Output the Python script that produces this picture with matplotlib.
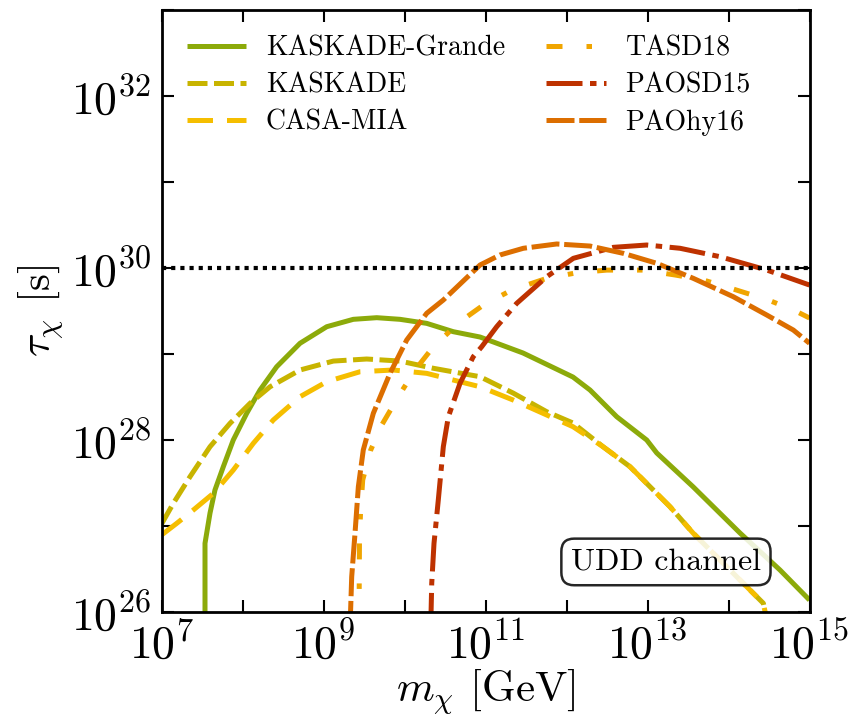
import matplotlib.pyplot as plt
import numpy as np

plt.rcParams['font.family'] = 'serif'
plt.rcParams['font.serif'] = ['cmr10']
plt.rcParams['mathtext.fontset'] = 'cm'
plt.rcParams['axes.formatter.use_mathtext'] = True

# log10(m / GeV) and log10(tau / s) for each experiment
kg_m = [7.537, 7.537, 7.599, 7.660, 7.763, 7.886, 8.052, 8.216, 8.422, 8.710,
        9.040, 9.368, 9.657, 9.944, 10.274, 10.602, 10.932, 11.463, 12.080,
        12.290, 12.620, 12.990, 13.114, 13.562, 14.142, 14.636, 15.0]
kg_t = [25.8, 26.796, 27.149, 27.417, 27.688, 27.999, 28.310, 28.581, 28.852,
        29.125, 29.318, 29.404, 29.423, 29.404, 29.357, 29.260, 29.198, 29.012,
        28.732, 28.581, 28.270, 27.999, 27.848, 27.455, 26.916, 26.485, 26.136]

k_m = [7.0, 7.146, 7.352, 7.599, 7.846, 8.093, 8.340, 8.710, 9.121, 9.533,
       9.944, 10.356, 10.932, 11.340, 11.756, 12.080, 12.451, 12.784, 13.031,
       13.278, 13.562, 13.895, 14.225, 14.430, 14.451, 14.451]
k_t = [27.02, 27.262, 27.572, 27.921, 28.193, 28.426, 28.619, 28.814, 28.918,
       28.942, 28.918, 28.834, 28.736, 28.546, 28.328, 28.197, 27.921, 27.688,
       27.455, 27.222, 26.916, 26.602, 26.291, 26.098, 26.0, 25.8]

cm_m = [7.0, 7.188, 7.393, 7.640, 7.886, 8.133, 8.380, 8.710, 9.040, 9.451,
        9.862, 10.274, 10.932, 11.340, 11.756, 12.080, 12.451, 12.784, 13.031,
        13.278, 13.562, 13.895, 14.225, 14.430, 14.451, 14.451]
cm_t = [26.893, 27.029, 27.184, 27.378, 27.649, 27.960, 28.232, 28.503, 28.678,
        28.794, 28.814, 28.775, 28.619, 28.465, 28.290, 28.154, 27.921, 27.688,
        27.455, 27.222, 26.916, 26.602, 26.291, 26.098, 26.0, 25.8]

ta_m = [9.438, 9.444, 9.457, 9.484, 9.583, 9.719, 9.923, 10.130, 10.356, 10.685,
        10.973, 11.323, 11.756, 12.126, 12.496, 12.948, 13.340, 13.689, 14.056,
        14.491, 14.821, 15.0]
ta_t = [25.8, 26.835, 27.149, 27.534, 27.883, 28.174, 28.503, 28.814, 29.085,
        29.376, 29.570, 29.745, 29.881, 29.946, 29.977, 29.977, 29.920, 29.862,
        29.757, 29.629, 29.504, 29.419]

sd_m = [10.323, 10.336, 10.364, 10.417, 10.479, 10.541, 10.685, 10.849, 10.953,
        11.138, 11.385, 11.756, 12.084, 12.578, 12.990, 13.401, 13.895, 14.472,
        15.0]
sd_t = [25.8, 26.331, 26.796, 27.300, 27.921, 28.270, 28.659, 28.969, 29.085,
        29.318, 29.590, 29.900, 30.114, 30.242, 30.269, 30.231, 30.133, 29.978,
        29.803]

hy_m = [9.327, 9.348, 9.389, 9.430, 9.491, 9.615, 9.821, 10.027, 10.274, 10.479,
        10.932, 11.179, 11.467, 11.879, 12.290, 12.701, 13.114, 13.565, 14.059,
        14.472, 14.800, 15.0]
hy_t = [25.8, 26.407, 26.916, 27.455, 27.883, 28.310, 28.775, 29.163, 29.474,
        29.629, 30.036, 30.153, 30.231, 30.281, 30.257, 30.172, 30.056, 29.881,
        29.667, 29.454, 29.279, 29.125]

tau_ref = 1e30

series = [
    ('KASKADE-Grande', kg_m, kg_t, '#8caa0a', None),
    ('KASKADE', k_m, k_t, '#c8b400', (4.0, 1.3)),
    ('CASA-MIA', cm_m, cm_t, '#f5be00', (5.1, 2.8)),
    ('TASD18', ta_m, ta_t, '#f0a500', (3.2, 4.8, 1.1, 4.8)),
    ('PAOSD15', sd_m, sd_t, '#be3200', (7.2, 1.5, 1.3, 1.5)),
    ('PAOhy16', hy_m, hy_t, '#dc6e00', (5.6, 0.95)),
]

fig = plt.figure(figsize=(8.5, 7.18), dpi=100)
ax = fig.add_axes([0.19, 0.148, 0.7624, 0.8375])

for name, lm, lt, col, dash in series:
    line, = ax.plot(10.0 ** np.array(lm), 10.0 ** np.array(lt), color=col,
                    lw=3.6, label=name, solid_capstyle='butt',
                    dash_capstyle='butt')
    if dash is not None:
        line.set_dashes(dash)

ax.axhline(tau_ref, color='black', lw=3.0, dashes=(1, 1.2))

ax.set_xscale('log')
ax.set_yscale('log')
ax.set_xlim(1e7, 1e15)
ax.set_ylim(1e26, 1e33)

xexp = list(range(7, 16))
yexp = list(range(26, 34))
ax.set_xticks([10.0 ** k for k in xexp])
ax.set_xticklabels([r'$10^{%d}$' % k if k % 2 == 1 else '' for k in xexp])
ax.set_yticks([10.0 ** k for k in yexp])
ax.set_yticklabels([r'$10^{%d}$' % k if k % 2 == 0 else '' for k in yexp])
ax.minorticks_off()
ax.tick_params(which='both', direction='in', length=8.6, width=1.5,
               top=True, right=True, labelsize=33, pad=7)
for sp in ax.spines.values():
    sp.set_linewidth(2)

ax.set_xlabel(r'$m_\chi$ [GeV]', fontsize=31, labelpad=0)
ax.set_ylabel(r'$\tau_\chi$ [s]', fontsize=31, labelpad=4)

ax.legend(loc='upper left', ncol=2, frameon=False, fontsize=20,
          handlelength=2.15, handletextpad=0.7, columnspacing=1.5,
          labelspacing=0.38, borderaxespad=0.55, borderpad=0.35)

ax.text(0.925, 0.06, 'UDD channel', transform=ax.transAxes, fontsize=23,
        ha='right', va='bottom',
        bbox=dict(boxstyle='round,pad=0.3,rounding_size=0.4', fc='white',
                  ec='black', lw=1.8, alpha=0.85))

fig.savefig('out.png', dpi=100)
